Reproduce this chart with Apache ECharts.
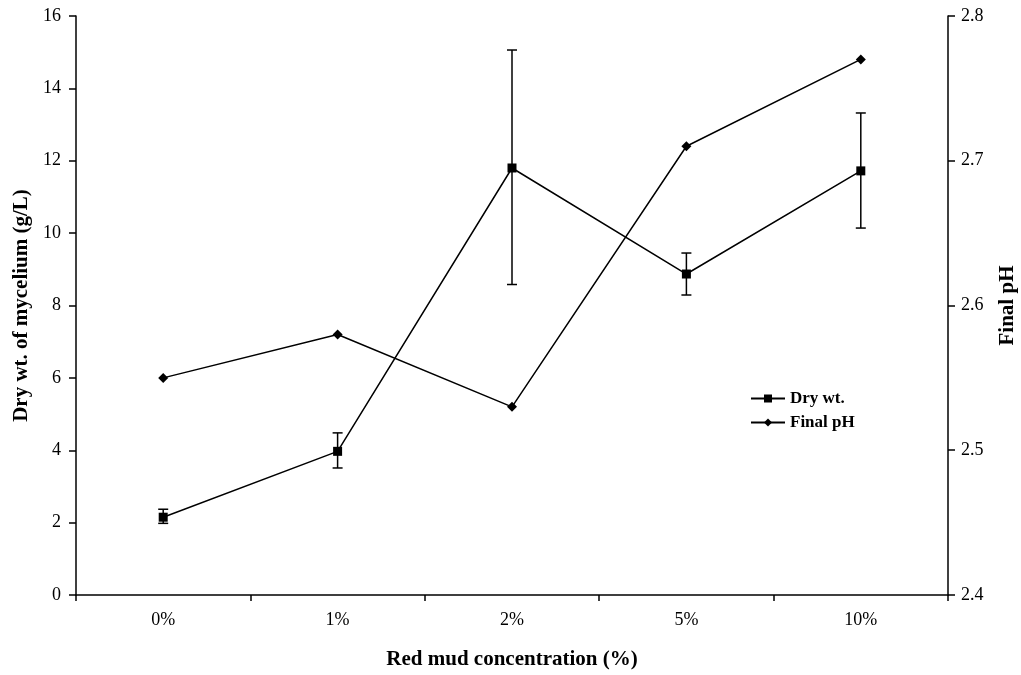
<!DOCTYPE html>
<html>
<head>
<meta charset="utf-8">
<script src="https://cdn.jsdelivr.net/npm/echarts@6/dist/echarts.min.js"></script>
<style>
  html, body { margin: 0; padding: 0; background: #fff; }
  #chart { width: 1021px; height: 675px; }
</style>
</head>
<body>
<div id="chart"></div>
<script>
var categories = ['0%', '1%', '2%', '5%', '10%']
var dryWt = [2.15, 3.97, 11.8, 8.87, 11.72]
var dryWtLow = [1.98, 3.51, 8.58, 8.29, 10.14]
var dryWtHigh = [2.37, 4.48, 15.06, 9.45, 13.32]
var finalPH = [2.55, 2.58, 2.53, 2.71, 2.77]

var font = '"Liberation Serif", "Times New Roman", serif'

var chart = echarts.init(document.getElementById('chart'))

var errData = categories.map(function (c, i) {
  return [i, dryWtLow[i], dryWtHigh[i]]
})

var titleStyle = { fontFamily: font, fontWeight: 'bold', fontSize: 21, color: '#000' }

chart.setOption({
  backgroundColor: '#fff',
  animation: false,
  textStyle: { fontFamily: font, color: '#000' },
  grid: { left: 76, right: 73, top: 16, bottom: 80, containLabel: false, outerBoundsMode: 'none' },
  legend: {
    data: ['Dry wt.', 'Final pH'],
    orient: 'vertical',
    left: 745,
    top: 385,
    itemGap: 7,
    itemWidth: 34,
    itemHeight: 10,
    textStyle: { fontFamily: font, fontWeight: 'bold', fontSize: 17, color: '#000' }
  },
  xAxis: {
    type: 'category',
    data: categories,
    boundaryGap: true,
    name: 'Red mud concentration (%)',
    nameLocation: 'middle',
    nameGap: 54,
    nameTextStyle: titleStyle,
    axisLine: { lineStyle: { color: '#000', width: 1.5 } },
    axisTick: { show: true, length: 6, lineStyle: { color: '#000', width: 1.5 } },
    axisLabel: { margin: 16, fontFamily: font, fontSize: 18, color: '#000' },
    splitLine: { show: false }
  },
  yAxis: [{
    type: 'value',
    min: 0,
    max: 16,
    interval: 2,
    name: 'Dry wt. of mycelium (g/L)',
    nameLocation: 'middle',
    nameGap: 44,
    nameTextStyle: titleStyle,
    axisLine: { show: true, lineStyle: { color: '#000', width: 1.5 } },
    axisTick: { show: true, length: 7, lineStyle: { color: '#000', width: 1.5 } },
    axisLabel: { margin: 15, fontFamily: font, fontSize: 18, color: '#000' },
    splitLine: { show: false }
  }, {
    type: 'value',
    min: 2.4,
    max: 2.8,
    interval: 0.1,
    position: 'right',
    name: 'Final pH',
    nameLocation: 'middle',
    nameGap: 49,
    nameRotate: 90,
    nameTextStyle: titleStyle,
    axisLine: { show: true, lineStyle: { color: '#000', width: 1.5 } },
    axisTick: { show: true, length: 7, lineStyle: { color: '#000', width: 1.5 } },
    axisLabel: {
      margin: 13, fontFamily: font, fontSize: 18, color: '#000',
      formatter: function (v) { return v.toFixed(1) }
    },
    splitLine: { show: false }
  }],
  series: [{
    name: 'errorbars',
    type: 'custom',
    yAxisIndex: 0,
    z: 1,
    renderItem: function (params, api) {
      var x = api.value(0)
      var lo = api.coord([x, api.value(1)])
      var hi = api.coord([x, api.value(2)])
      var w = 5
      var style = { stroke: '#000', lineWidth: 1.5 }
      return {
        type: 'group',
        children: [
          { type: 'line', shape: { x1: lo[0], y1: lo[1], x2: hi[0], y2: hi[1] }, style: style },
          { type: 'line', shape: { x1: lo[0] - w, y1: lo[1], x2: lo[0] + w, y2: lo[1] }, style: style },
          { type: 'line', shape: { x1: hi[0] - w, y1: hi[1], x2: hi[0] + w, y2: hi[1] }, style: style }
        ]
      }
    },
    encode: { x: 0, y: [1, 2] },
    data: errData
  }, {
    name: 'Dry wt.',
    type: 'line',
    yAxisIndex: 0,
    z: 3,
    symbol: 'rect',
    symbolSize: 9,
    showAllSymbol: true,
    lineStyle: { color: '#000', width: 1.5 },
    itemStyle: { color: '#000' },
    data: dryWt
  }, {
    name: 'Final pH',
    type: 'line',
    yAxisIndex: 1,
    z: 3,
    symbol: 'diamond',
    symbolSize: 10,
    showAllSymbol: true,
    lineStyle: { color: '#000', width: 1.5 },
    itemStyle: { color: '#000' },
    data: finalPH
  }]
})
</script>
</body>
</html>
